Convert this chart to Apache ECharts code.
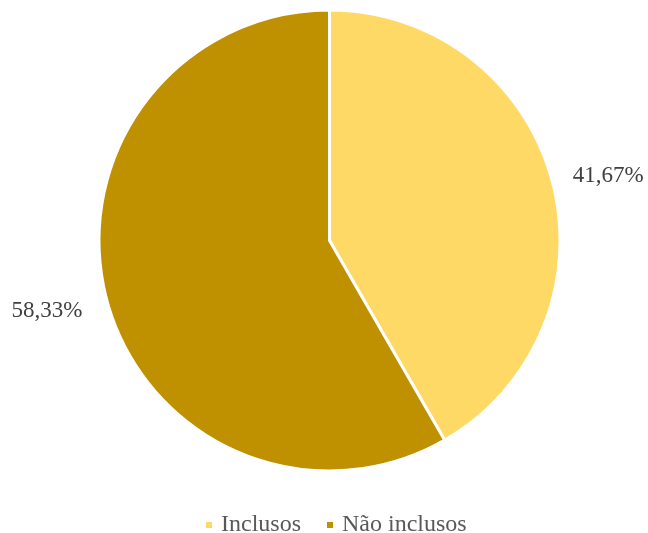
<!DOCTYPE html>
<html>
<head>
<meta charset="utf-8">
<script src="https://cdn.jsdelivr.net/npm/echarts@6/dist/echarts.min.js"></script>
<style>html,body{margin:0;padding:0;background:#fff}#c{width:648px;height:533px}</style>
</head>
<body>
<div id="c"></div>
<script>
const categories = ['Inclusos', 'Não inclusos'];
const values = [41.67, 58.33];
const colors = ['#FFD966', '#BF9000'];

const chart = echarts.init(document.getElementById('c'), null, {renderer: 'canvas'});
const data = categories.map((name, i) => ({
  name: name,
  value: values[i],
  itemStyle: {color: colors[i]},
  label: i === 1 ? {offset: [-4, 7]} : {offset: [0, -2]}
}));
chart.setOption({
  animation: false,
  backgroundColor: '#fff',
  legend: {
    top: 508,
    left: 199,
    itemWidth: 8,
    itemHeight: 8,
    itemGap: 24,
    icon: 'rect',
    textStyle: {fontFamily: 'Liberation Serif', fontSize: 24, color: '#595959', padding: [0, 0, 0, 3]},
    data: categories
  },
  series: [{
    type: 'pie',
    center: [329.5, 240.5],
    radius: 230.5,
    startAngle: 90,
    clockwise: true,
    avoidLabelOverlap: false,
    itemStyle: {borderColor: '#fff', borderWidth: 3},
    label: {
      show: true,
      position: 'outside',
      fontFamily: 'Liberation Serif',
      fontSize: 23,
      color: '#404040',
      formatter: p => p.value.toFixed(2).replace('.', ',') + '%'
    },
    labelLine: {show: false, length: 13, length2: 3},
    emphasis: {disabled: true},
    data: data
  }]
});
</script>
</body>
</html>
